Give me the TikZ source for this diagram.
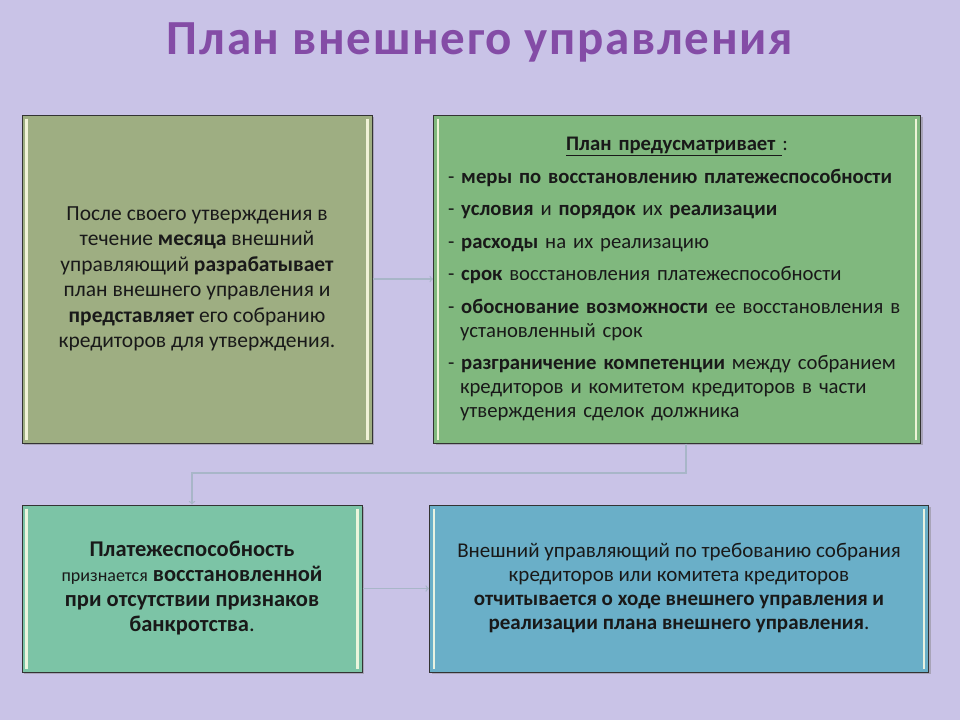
\documentclass[tikz,border=0pt]{standalone}
\usepackage{fontspec}
\setmainfont{Carlito}
\usetikzlibrary{shadows}

\definecolor{bgLav}{RGB}{201,195,231}
\definecolor{titlePurple}{RGB}{132,76,166}
\definecolor{oliveBox}{RGB}{158,174,130}
\definecolor{greenBox}{RGB}{128,184,126}
\definecolor{mintBox}{RGB}{124,196,166}
\definecolor{blueBox}{RGB}{106,175,200}
\definecolor{connGray}{RGB}{168,182,200}
\definecolor{txt}{RGB}{25,25,25}

\begin{document}
\begin{tikzpicture}[x=1pt,y=-1pt,
  box/.style={draw=black!80, line width=1pt, text=txt, inner sep=0pt,
    drop shadow={shadow xshift=2pt, shadow yshift=-2pt, opacity=.45}},
  bevel/.style={draw=white!90!yellow, line width=2.5pt, opacity=.85},
  conn/.style={draw=connGray, line width=1.3pt, ->}]

\fill[bgLav] (0,0) rectangle (960,720);
\useasboundingbox (0,0) rectangle (960,720);

\node[font={\fontsize{49}{54}\selectfont\bfseries\addfontfeatures{LetterSpace=3.5}}, text=titlePurple] (title) at (480,42) {План внешнего управления};

% upper row
\node[box, fill=oliveBox, minimum width=350pt, minimum height=328pt, align=center,
      font={\fontsize{21.5}{25.5}\selectfont}] (b1) at (197,279)
  {После своего утверждения в\\
   течение \textbf{месяца} внешний\\
   управляющий \textbf{разрабатывает}\\
   план внешнего управления и\\
   \textbf{представляет} его собранию\\
   кредиторов для утверждения.};

\node[box, fill=greenBox, minimum width=487pt, minimum height=328pt, text width=458pt, align=left,
      font={\fontsize{20.7}{24}\selectfont}] (b2) at (677,279)
  {{\centering\textbf{\underline{План предусматривает\ }}:\par}\vspace{9pt}
   - \textbf{меры по восстановлению платежеспособности}\\[8.4pt]
   - \textbf{условия} и \textbf{порядок} их \textbf{реализации}\\[8.4pt]
   - \textbf{расходы} на их реализацию\\[8.4pt]
   - \textbf{срок} восстановления платежеспособности\\[8.4pt]
   - \textbf{обоснование возможности} ее восстановления в\\
   \hspace*{12pt}установленный срок\\[8.4pt]
   - \textbf{разграничение компетенции} между собранием\\
   \hspace*{12pt}кредиторов и комитетом кредиторов в части\\
   \hspace*{12pt}утверждения сделок должника};

% lower row
\node[box, fill=mintBox, minimum width=340pt, minimum height=167pt, align=center,
      font={\fontsize{22.5}{25}\selectfont}] (b3) at (192,588.5)
  {\textbf{Платежеспособность}\\
   {\fontsize{18}{25}\selectfont признается} \textbf{восстановленной}\\
   \textbf{при отсутствии признаков}\\
   \textbf{банкротства}.};

\node[box, fill=blueBox, minimum width=499pt, minimum height=167pt, align=center,
      font={\fontsize{21}{24}\selectfont}] (b4) at (679,588.5)
  {Внешний управляющий по требованию собрания\\
   кредиторов или комитета кредиторов\\
   \textbf{отчитывается о ходе внешнего управления и}\\
   \textbf{реализации плана внешнего управления}.};

% light edges
\foreach \b in {b1,b2,b3,b4}{
  \draw[bevel] ([xshift=5pt,yshift=-4pt]\b.north west) -- ([xshift=5pt,yshift=4pt]\b.south west);
  \draw[bevel] ([xshift=-5pt,yshift=-4pt]\b.north east) -- ([xshift=-5pt,yshift=4pt]\b.south east);
}

% connectors
\coordinate (bend) at (686,473);
\draw[conn] (b1.east) -- (b2.west);
\draw[conn] (b2.south -| bend) -- (bend) -| (b3.north);
\draw[conn] (b3.east) -- (b4.west);

\end{tikzpicture}
\end{document}
